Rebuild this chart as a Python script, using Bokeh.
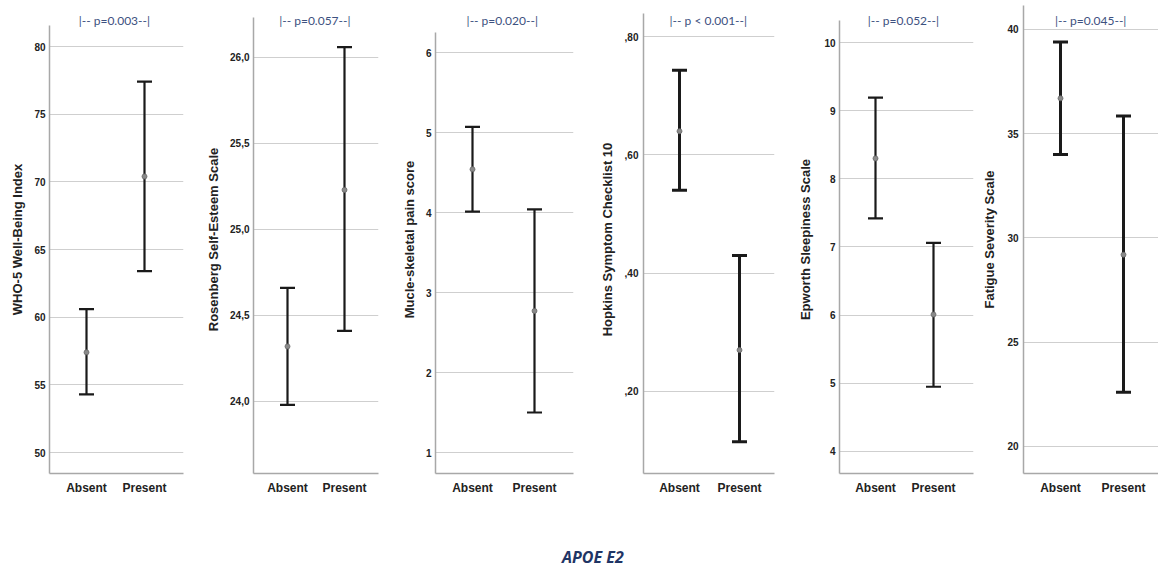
from bokeh.plotting import figure
from bokeh.models import (Range1d, FixedTicker, Whisker, TeeHead, ColumnDataSource,
                          Label, Div)
from bokeh.layouts import row, column
from bokeh.embed import file_html
from bokeh.resources import INLINE

# ---------------- data ----------------
groups = ["Absent", "Present"]
group_x = [1, 2]

p_texts = ["|-- p=0.003--|", "|-- p=0.057--|", "|-- p=0.020--|",
           "|-- p < 0.001--|", "|-- p=0.052--|", "|-- p=0.045--|"]
y_titles = ["WHO-5 Well-Being Index", "Rosenberg Self-Esteem Scale",
            "Mucle-skeletal pain score", "Hopkins Symptom Checklist 10",
            "Epworth Sleepiness Scale", "Fatigue Severity Scale"]

who5_mean = [57.4, 70.4]
who5_low = [54.3, 63.4]
who5_high = [60.6, 77.4]

rses_mean = [24.32, 25.23]
rses_low = [23.98, 24.41]
rses_high = [24.66, 26.06]

msk_mean = [4.54, 2.77]
msk_low = [4.01, 1.50]
msk_high = [5.07, 4.04]

hscl_mean = [0.64, 0.27]
hscl_low = [0.54, 0.115]
hscl_high = [0.743, 0.43]

ess_mean = [8.30, 6.01]
ess_low = [7.42, 4.95]
ess_high = [9.19, 7.06]

fss_mean = [36.7, 29.2]
fss_low = [34.0, 22.6]
fss_high = [39.4, 35.85]

who5_ticks = [50, 55, 60, 65, 70, 75, 80]
who5_tick_labels = ["50", "55", "60", "65", "70", "75", "80"]
rses_ticks = [24.0, 24.5, 25.0, 25.5, 26.0]
rses_tick_labels = ["24,0", "24,5", "25,0", "25,5", "26,0"]
msk_ticks = [1, 2, 3, 4, 5, 6]
msk_tick_labels = ["1", "2", "3", "4", "5", "6"]
hscl_ticks = [0.2, 0.4, 0.6, 0.8]
hscl_tick_labels = [",20", ",40", ",60", ",80"]
ess_ticks = [4, 5, 6, 7, 8, 9, 10]
ess_tick_labels = ["4", "5", "6", "7", "8", "9", "10"]
fss_ticks = [20, 25, 30, 35, 40]
fss_tick_labels = ["20", "25", "30", "35", "40"]

x_title = "APOE E2"

series = [
    (who5_mean, who5_low, who5_high, who5_ticks, who5_tick_labels),
    (rses_mean, rses_low, rses_high, rses_ticks, rses_tick_labels),
    (msk_mean, msk_low, msk_high, msk_ticks, msk_tick_labels),
    (hscl_mean, hscl_low, hscl_high, hscl_ticks, hscl_tick_labels),
    (ess_mean, ess_low, ess_high, ess_ticks, ess_tick_labels),
    (fss_mean, fss_low, fss_high, fss_ticks, fss_tick_labels),
]

# ---------------- layout (pixels / axis limits) ----------------
H = 540
TOP_B = 5
BOTTOM_B = 67
fig_w = [195, 195, 195, 200, 190, 183]
left_b = [49, 58, 45, 58, 54, 48]
frame_w = [134, 125, 138, 131, 134, 135]
y_lims = [(48.45, 83.03), (23.581, 26.302), (0.7375, 6.5875),
          (0.0614, 0.8524), (3.677, 10.543), (18.705, 41.151)]
axis_top = [81.55, 26.233, 6.25, 0.8389, 10.323, 41.151]
title_y = [81.92, 26.215, 6.40, 0.827, 10.323, 40.43]
first_off = [37, 34, 37, 36, 36, 37]
spacing = [58, 57, 62, 60, 58, 63]
cap_w = [15, 15, 15, 15, 15, 15]
bar_lw = [2.2, 2.2, 2.2, 3, 2.2, 3]
tick_standoff = [4, 4, 4, 5, 4, 5]
label_standoff = [6, 6, 6, 7, 8, 7]

FONT = "Liberation Sans"
figs = []
for i, (mean, lo, hi, ticks, tlabels) in enumerate(series):
    s = spacing[i]
    xs = 1 - first_off[i] / s
    xe = xs + frame_w[i] / s
    right_b = fig_w[i] - left_b[i] - frame_w[i]
    p = figure(width=fig_w[i], height=H, output_backend="svg", toolbar_location=None,
               title_location=None,
               x_range=Range1d(xs, xe), y_range=Range1d(*y_lims[i]),
               min_border_left=left_b[i], min_border_right=max(right_b, 0),
               min_border_top=TOP_B, min_border_bottom=BOTTOM_B)
    p.outline_line_color = None
    p.background_fill_color = "white"
    p.border_fill_color = "white"

    # y axis
    ya = p.yaxis[0]
    ya.bounds = (y_lims[i][0], axis_top[i])
    ya.ticker = FixedTicker(ticks=ticks)
    ya.major_label_overrides = {t: l for t, l in zip(ticks, tlabels)}
    ya.major_tick_out = 0
    ya.major_tick_in = 0
    ya.minor_tick_out = 0
    ya.minor_tick_in = 0
    ya.axis_line_color = "#a8a8a8"
    ya.axis_line_width = 1.5
    ya.major_label_text_font = FONT
    ya.major_label_text_font_style = "bold"
    ya.major_label_text_font_size = "10px"
    ya.major_label_text_color = "#222222"
    ya.major_label_standoff = tick_standoff[i]
    ya.axis_label = y_titles[i]
    ya.axis_label_text_font = FONT
    ya.axis_label_text_font_style = "bold"
    ya.axis_label_text_font_size = "13px"
    ya.axis_label_text_color = "#222222"
    ya.axis_label_standoff = label_standoff[i]

    # x axis
    xa = p.xaxis[0]
    xa.ticker = FixedTicker(ticks=group_x)
    xa.major_label_overrides = {x: g for x, g in zip(group_x, groups)}
    xa.major_tick_out = 0
    xa.major_tick_in = 0
    xa.minor_tick_out = 0
    xa.minor_tick_in = 0
    xa.axis_line_color = "#a8a8a8"
    xa.axis_line_width = 1.5
    xa.major_label_text_font = FONT
    xa.major_label_text_font_style = "bold"
    xa.major_label_text_font_size = "12px"
    xa.major_label_text_color = "#222222"
    xa.major_label_standoff = 7

    p.xgrid.visible = False
    p.ygrid.ticker = FixedTicker(ticks=ticks)
    p.ygrid.grid_line_color = "#cfcfcf"
    p.ygrid.grid_line_width = 1

    src = ColumnDataSource(dict(x=group_x, mean=mean, lo=lo, hi=hi))
    w = Whisker(base="x", lower="lo", upper="hi", source=src,
                line_color="#1a1a1a", line_width=bar_lw[i],
                upper_head=TeeHead(size=cap_w[i], line_color="#1a1a1a", line_width=bar_lw[i]),
                lower_head=TeeHead(size=cap_w[i], line_color="#1a1a1a", line_width=bar_lw[i]))
    p.add_layout(w)
    p.scatter("x", "mean", source=src, size=5, fill_color="#8a8a8a",
              line_color="#6a6a6a", line_width=0.8)

    lab = Label(x=1.48, y=title_y[i], text=p_texts[i], text_align="center",
                text_baseline="middle", text_font="Lato", text_font_size="12px",
                text_color="#3d5180")
    p.add_layout(lab)
    figs.append(p)

div = Div(text=('<div style="padding-left:557px;font-family:\'Open Sans\';font-style:italic;'
                'font-weight:bold;font-size:16px;color:#1f3565;line-height:24px;">'
                + x_title + '</div>'), width=1158, height=32)

layout = column(row(*figs), div)
open("out.html", "w").write(file_html(layout, INLINE))
